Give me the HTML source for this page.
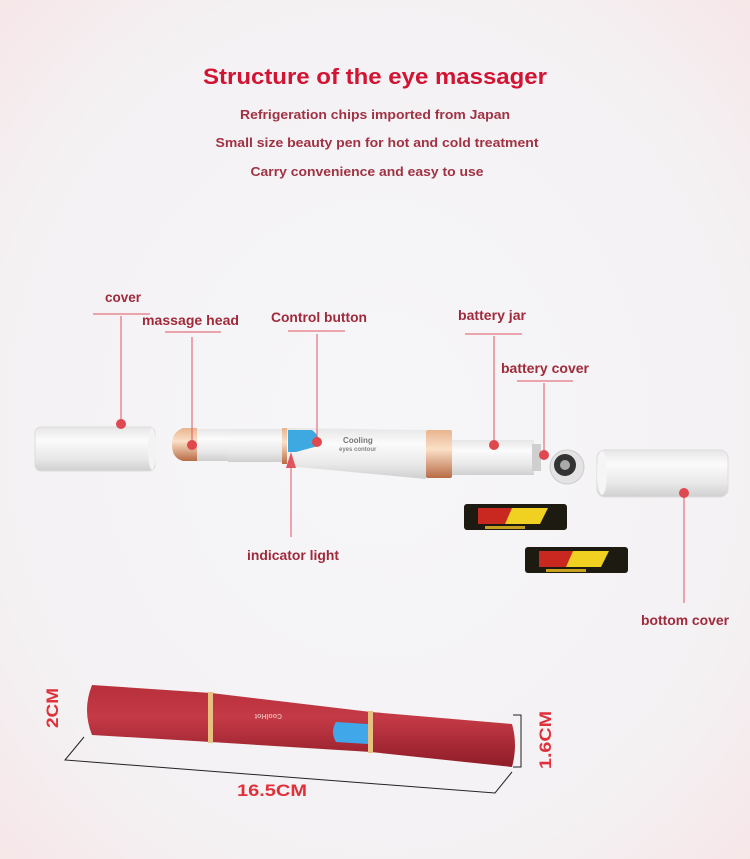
<!DOCTYPE html>
<html><head><meta charset="utf-8"><style>
html,body{margin:0;padding:0;width:750px;height:859px;overflow:hidden}
svg{display:block}
text{font-family:"Liberation Sans",sans-serif;font-weight:bold}
</style></head><body>
<svg width="750" height="859" viewBox="0 0 750 859" xmlns="http://www.w3.org/2000/svg">
<defs>
<radialGradient id="bg" cx="0.5" cy="0.5" r="0.75">
<stop offset="0" stop-color="#f6f6f8"/><stop offset="0.7" stop-color="#f4f1f3"/><stop offset="1" stop-color="#f7e4e6"/>
</radialGradient>
<linearGradient id="wt" x1="0" y1="0" x2="0" y2="1">
<stop offset="0" stop-color="#e6e6e6"/><stop offset="0.3" stop-color="#fbfbfb"/><stop offset="0.7" stop-color="#e9e9e9"/><stop offset="1" stop-color="#cfcfcf"/>
</linearGradient>
<linearGradient id="gd" x1="0" y1="0" x2="0" y2="1">
<stop offset="0" stop-color="#e8b48e"/><stop offset="0.4" stop-color="#fbe0c8"/><stop offset="1" stop-color="#b86c45"/>
</linearGradient>
<linearGradient id="rd" x1="0" y1="0" x2="0" y2="1">
<stop offset="0" stop-color="#b8303c"/><stop offset="0.4" stop-color="#c43a46"/><stop offset="1" stop-color="#8e1c28"/>
</linearGradient>
</defs>
<rect width="750" height="859" fill="url(#bg)"/>
<text x="375" y="84" text-anchor="middle" font-size="22" fill="#d21432" textLength="344" lengthAdjust="spacingAndGlyphs">Structure of the eye massager</text>
<g font-size="13" fill="#a03244" text-anchor="middle">
<text x="375" y="119" textLength="270" lengthAdjust="spacingAndGlyphs">Refrigeration chips imported from Japan</text>
<text x="377" y="147" textLength="323" lengthAdjust="spacingAndGlyphs">Small size beauty pen for hot and cold treatment</text>
<text x="367" y="176" textLength="233" lengthAdjust="spacingAndGlyphs">Carry convenience and easy to use</text>
</g>

<!-- exploded pen -->
<rect x="35" y="427" width="120" height="44" rx="6" fill="url(#wt)" stroke="#ddd"/>
<ellipse cx="152" cy="449" rx="4" ry="21" fill="#f3f3f3"/>
<path d="M197,428 L183,428 Q172,432 172,445 Q172,458 183,461 L197,461 Z" fill="url(#gd)"/>
<rect x="197" y="429" width="32" height="32" fill="url(#wt)"/>
<rect x="228" y="429" width="55" height="33" fill="url(#wt)"/>
<rect x="282" y="428" width="5" height="36" fill="url(#gd)"/>
<path d="M287,428 L426,430 L426,479 L287,466 Z" fill="url(#wt)"/>
<path d="M288,430 L312,430 Q322,438 318,446 L296,452 L288,452 Z" fill="#3ea8e0"/>
<text x="343" y="443" font-size="8" fill="#777">Cooling</text>
<text x="339" y="451" font-size="6" fill="#888" font-weight="normal">eyes contour</text>
<rect x="426" y="430" width="26" height="48" rx="2" fill="url(#gd)"/>
<rect x="452" y="440" width="82" height="35" fill="url(#wt)"/>
<rect x="532" y="444" width="9" height="27" fill="#cfcfcf"/>
<circle cx="567" cy="467" r="17" fill="#e3e3e3" stroke="#ccc"/>
<circle cx="565" cy="465" r="11" fill="#333"/>
<circle cx="565" cy="465" r="5" fill="#aaa"/>
<rect x="597" y="450" width="131" height="47" rx="8" fill="url(#wt)" stroke="#ddd"/>
<ellipse cx="602" cy="473" rx="5" ry="22" fill="#f5f5f5"/>
<!-- batteries -->
<g>
<rect x="464" y="504" width="103" height="26" rx="3" fill="#1d1a12"/>
<path d="M478,508 L540,508 L532,524 L478,524 Z" fill="#c82820"/>
<path d="M512,508 L548,508 L540,524 L505,524 Z" fill="#f0d020"/>
<rect x="485" y="526" width="40" height="3" fill="#c8a020"/>
<rect x="525" y="547" width="103" height="26" rx="3" fill="#1d1a12"/>
<path d="M539,551 L601,551 L593,567 L539,567 Z" fill="#c82820"/>
<path d="M573,551 L609,551 L601,567 L566,567 Z" fill="#f0d020"/>
<rect x="546" y="569" width="40" height="3" fill="#c8a020"/>
</g>

<!-- labels -->
<g stroke="#e05560" stroke-width="1" fill="none">
<path d="M93,314 H150 M121,316 V424"/>
<path d="M165,332 H221 M192,337 V445"/>
<path d="M288,331 H345 M317,334 V442"/>
<path d="M465,334 H522 M494,336 V445"/>
<path d="M517,381 H573 M544,383 V455"/>
<path d="M291,537 V462"/>
<path d="M684,494 V603"/>
</g>
<path d="M286,468 L291,452 L296,468 Z" fill="#e05560"/>
<g fill="#e0484f">
<circle cx="121" cy="424" r="5"/><circle cx="192" cy="445" r="5"/><circle cx="317" cy="442" r="5"/>
<circle cx="494" cy="445" r="5"/><circle cx="544" cy="455" r="5"/><circle cx="684" cy="493" r="5"/>
</g>
<g font-size="13.5" fill="#a02a3c">
<text x="105" y="302" textLength="36" lengthAdjust="spacingAndGlyphs">cover</text>
<text x="142" y="325" textLength="97" lengthAdjust="spacingAndGlyphs">massage head</text>
<text x="271" y="322" textLength="96" lengthAdjust="spacingAndGlyphs">Control button</text>
<text x="458" y="320" textLength="68" lengthAdjust="spacingAndGlyphs">battery jar</text>
<text x="501" y="373" textLength="88" lengthAdjust="spacingAndGlyphs">battery cover</text>
<text x="247" y="560" textLength="92" lengthAdjust="spacingAndGlyphs">indicator light</text>
<text x="641" y="625" textLength="88" lengthAdjust="spacingAndGlyphs">bottom cover</text>
</g>

<!-- red pen -->
<path d="M92,685 L211,693 L371,712 L512,724 Q518,745 512,767 L371,752 L211,742 L92,735 Q82,710 92,685 Z" fill="url(#rd)"/>
<rect x="208" y="692" width="5" height="51" fill="#e8c080"/>
<rect x="368" y="711" width="5" height="42" fill="#e8c080"/>
<path d="M336,722 L368,724 L368,744 L336,742 Q330,732 336,722 Z" fill="#40a8e8"/>
<text x="282" y="720" font-size="7" fill="#e8b0b0" font-weight="normal" transform="rotate(180 282 717)">CoolHot</text>
<!-- dims -->
<g stroke="#222" stroke-width="1" fill="none">
<path d="M84,737 L65,760 L495,793 L512,772"/>
<path d="M513,715 H521 V767 H513"/>
</g>
<g font-size="17" fill="#e0303a">
<text x="237" y="796" textLength="70" lengthAdjust="spacingAndGlyphs">16.5CM</text>
<text transform="translate(58,728) rotate(-90)" textLength="40" lengthAdjust="spacingAndGlyphs">2CM</text>
<text transform="translate(551,769) rotate(-90)" textLength="58" lengthAdjust="spacingAndGlyphs">1.6CM</text>
</g>
</svg>
</body></html>
